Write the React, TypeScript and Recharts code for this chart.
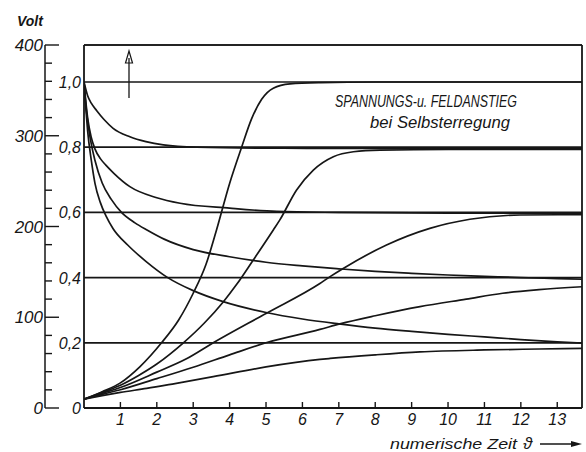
import React from 'react';
import { LineChart, Line, XAxis, YAxis, CartesianGrid, ReferenceLine } from 'recharts';

// ---- axis ticks ----
const xTicks = [1, 2, 3, 4, 5, 6, 7, 8, 9, 10, 11, 12, 13];
const innerTicks = [0, 0.2, 0.4, 0.6, 0.8, 1.0];
const voltTicks = [0, 20, 40, 60, 80, 100, 120, 140, 160, 180, 200, 220, 240, 260, 280, 300, 320, 340, 360, 380, 400];

// ---- decaying curves (field) ----
const d1T = [0, 0.1, 0.2, 0.35, 0.55, 0.8, 1.26, 1.7, 2.18, 3.1, 5, 8, 11, 13.68];
const d1V = [1.0, 0.958, 0.935, 0.912, 0.885, 0.858, 0.832, 0.817, 0.807, 0.8, 0.797, 0.796, 0.795, 0.795];

const d2T = [0, 0.05, 0.1, 0.2, 0.3, 0.45, 0.6, 0.82, 1.26, 2, 2.64, 4, 5.3, 7, 10, 13.68];
const d2V = [1.0, 0.94, 0.89, 0.83, 0.795, 0.765, 0.745, 0.72, 0.679, 0.645, 0.628, 0.613, 0.603, 0.6, 0.598, 0.597];

const d3T = [0, 0.05, 0.1, 0.2, 0.3, 0.5, 0.75, 1.03, 1.4, 1.73, 2.2, 3, 4, 5, 6, 7, 8, 9, 10, 11, 12, 13, 13.68];
const d3V = [1.0, 0.93, 0.88, 0.81, 0.76, 0.69, 0.64, 0.6, 0.568, 0.546, 0.518, 0.486, 0.464, 0.447, 0.436, 0.427, 0.419, 0.413, 0.408, 0.404, 0.4, 0.397, 0.395];

const d4T = [0, 0.05, 0.1, 0.2, 0.3, 0.45, 0.6, 0.8, 1.2, 1.7, 2.3, 3, 3.8, 5, 6, 7, 8, 9, 10, 11, 12, 13, 13.68];
const d4V = [1.0, 0.92, 0.85, 0.76, 0.69, 0.63, 0.59, 0.55, 0.5, 0.45, 0.4, 0.36, 0.327, 0.293, 0.273, 0.258, 0.245, 0.235, 0.226, 0.218, 0.21, 0.203, 0.199];

// ---- rising curves (voltage) ----
const r1T = [0, 0.5, 1, 1.54, 2.13, 2.6, 3.0, 3.35, 3.64, 4.0, 4.33, 4.6, 4.88, 5.2, 5.66, 6.5, 8, 10, 13.68];
const r1V = [0.027, 0.05, 0.077, 0.127, 0.2, 0.27, 0.352, 0.44, 0.546, 0.689, 0.8, 0.886, 0.947, 0.981, 0.994, 0.998, 1.0, 1.0, 1.0];

const r2T = [0, 0.5, 1, 1.5, 2, 2.73, 3.3, 3.83, 4.2, 4.65, 5.2, 5.38, 5.84, 6.3, 6.85, 7.4, 8.13, 10, 13.68];
const r2V = [0.027, 0.048, 0.07, 0.1, 0.135, 0.2, 0.26, 0.326, 0.38, 0.454, 0.546, 0.577, 0.669, 0.73, 0.771, 0.786, 0.791, 0.793, 0.793];

const r3T = [0, 0.5, 1, 2, 2.8, 3.55, 5.0, 6.48, 6.76, 7.12, 8.31, 9.5, 10.6, 11.98, 13.68];
const r3V = [0.027, 0.045, 0.063, 0.11, 0.15, 0.2, 0.29, 0.382, 0.403, 0.428, 0.5, 0.551, 0.579, 0.592, 0.593];

const r4T = [0, 0.5, 1, 2, 3, 4, 5.0, 6.48, 7.03, 8, 9.23, 10.5, 11.5, 12.5, 13.68];
const r4V = [0.027, 0.042, 0.056, 0.09, 0.125, 0.163, 0.2, 0.241, 0.258, 0.283, 0.311, 0.334, 0.352, 0.363, 0.372];

const r5T = [0, 0.5, 1, 1.72, 2.5, 3.55, 5, 6.48, 6.76, 8, 9.23, 11, 12.5, 13.68];
const r5V = [0.027, 0.038, 0.048, 0.06, 0.075, 0.096, 0.126, 0.149, 0.152, 0.163, 0.172, 0.178, 0.181, 0.183];

const toData = (ts: number[], vs: number[]) => ts.map((t, i) => ({ t, v: vs[i] }));

const series = [
  toData(d1T, d1V),
  toData(d2T, d2V),
  toData(d3T, d3V),
  toData(d4T, d4V),
  toData(r1T, r1V),
  toData(r2T, r2V),
  toData(r3T, r3V),
  toData(r4T, r4V),
  toData(r5T, r5V),
];

const X_MAX = 13.68;
const INNER_MAX = 1.1135;
const INK = '#161616';
const FONT = "'Liberation Sans', 'DejaVu Sans', sans-serif";

const XTick = (props: any) => {
  const { x, y, payload } = props;
  return (
    <g>
      <line x1={x} x2={x} y1={y} y2={y - 6} stroke={INK} strokeWidth={1.4} />
      <text x={x} y={y + 17} textAnchor="middle" fontSize={16} fontStyle="italic" fontFamily={FONT} fill={INK}>
        {payload.value}
      </text>
    </g>
  );
};

const InnerTick = (props: any) => {
  const { x, y, payload } = props;
  const v = payload.value as number;
  const label = v === 0 ? '0' : v.toFixed(1).replace('.', ',');
  return (
    <text x={x - 3} y={y + 6} textAnchor="end" fontSize={16} fontStyle="italic" fontFamily={FONT} fill={INK}>
      {label}
    </text>
  );
};

const VoltTick = (props: any) => {
  const { x, y, payload } = props;
  const v = payload.value as number;
  const major = v % 100 === 0;
  return (
    <g>
      <line x1={x} x2={x + (major ? 14 : 7)} y1={y} y2={y} stroke={INK} strokeWidth={1.4} />
      {major && (
        <text x={x - 2} y={y + 6} textAnchor="end" fontSize={17} fontStyle="italic" fontFamily={FONT} fill={INK}>
          {v}
        </text>
      )}
    </g>
  );
};

export default function App() {
  return (
    <div style={{ position: 'fixed', left: 0, top: 0, width: 586, height: 452, background: '#fff' }}>
      <LineChart width={586} height={452} margin={{ top: 45, right: 4, bottom: 0, left: 5 }}>
        <CartesianGrid yAxisId="inner" vertical={false} stroke={INK} strokeWidth={1.7} strokeOpacity={1} />
        <XAxis
          dataKey="t"
          type="number"
          domain={[0, X_MAX]}
          ticks={xTicks}
          interval={0}
          allowDataOverflow
          height={44}
          tickSize={0}
          tickMargin={0}
          tick={<XTick />}
          axisLine={{ stroke: INK, strokeWidth: 1.8 }}
        />
        <YAxis
          yAxisId="inner"
          type="number"
          domain={[0, INNER_MAX]}
          ticks={innerTicks}
          interval={0}
          allowDataOverflow
          width={39}
          tickSize={0}
          tickMargin={0}
          tick={<InnerTick />}
          axisLine={{ stroke: INK, strokeWidth: 1.8 }}
        />
        <YAxis
          yAxisId="volt"
          type="number"
          domain={[0, 400]}
          ticks={voltTicks}
          interval={0}
          allowDataOverflow
          width={40}
          tickSize={0}
          tickMargin={0}
          tick={<VoltTick />}
          axisLine={{ stroke: INK, strokeWidth: 1.5 }}
        />
        <ReferenceLine yAxisId="inner" y={INNER_MAX} stroke={INK} strokeWidth={1.7} />
        <ReferenceLine yAxisId="inner" x={X_MAX} stroke={INK} strokeWidth={1.8} />
        {series.map((d, i) => (
          <Line
            key={i}
            yAxisId="inner"
            data={d}
            dataKey="v"
            type="monotone"
            dot={false}
            activeDot={false}
            stroke={INK}
            strokeWidth={1.7}
            isAnimationActive={false}
          />
        ))}
      </LineChart>
      <svg width={586} height={452} style={{ position: 'absolute', left: 0, top: 0, pointerEvents: 'none' }}>
        <text x={17} y={26} fontSize={14} fontStyle="italic" fontWeight="bold" fontFamily={FONT} fill={INK}>Volt</text>
        <line x1={129} x2={129} y1={98} y2={58} stroke={INK} strokeWidth={1.3} />
        <polygon points="125.5,63 129,51 132.5,63" fill="none" stroke={INK} strokeWidth={1.2} />
        <text x={335} y={107} fontSize={17} fontStyle="italic" fontFamily={FONT} fill={INK} textLength={182} lengthAdjust="spacingAndGlyphs">
          SPANNUNGS-u. FELDANSTIEG
        </text>
        <text x={370} y={128} fontSize={17} fontStyle="italic" fontFamily={FONT} fill={INK} textLength={140} lengthAdjust="spacingAndGlyphs">
          bei Selbsterregung
        </text>
        <text x={390} y={449} fontSize={15} fontStyle="italic" fontFamily={FONT} fill={INK} textLength={127} lengthAdjust="spacingAndGlyphs">
          numerische Zeit
        </text>
        <text x={523} y={449} fontSize={17} fontStyle="italic" fontFamily={FONT} fill={INK}>ϑ</text>
        <line x1={540} x2={578} y1={444} y2={444} stroke={INK} strokeWidth={1.3} />
        <polygon points="571,441 582,444 571,447" fill={INK} />
      </svg>
    </div>
  );
}
